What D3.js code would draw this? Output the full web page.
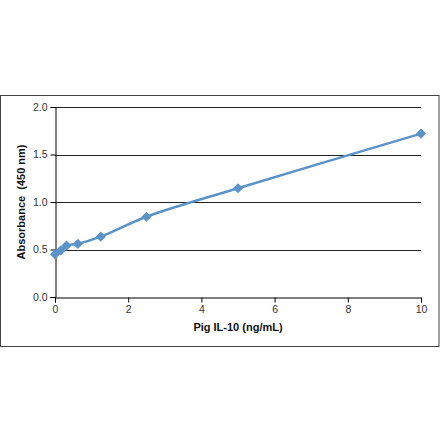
<!DOCTYPE html>
<html><head><meta charset="utf-8">
<script src="https://cdn.jsdelivr.net/npm/d3@7"></script>
<style>html,body{margin:0;padding:0;background:#fff;}svg{display:block;}</style>
</head><body>
<svg id="c" width="440" height="441"></svg>
<script>
const concentrations = [0, 0.156, 0.3125, 0.625, 1.25, 2.5, 5, 10];
const absorbance = [0.45, 0.49, 0.54, 0.56, 0.635, 0.845, 1.145, 1.72];
const xTicks = [0, 2, 4, 6, 8, 10];
const yTicks = [0.0, 0.5, 1.0, 1.5, 2.0];
const xTitle = "Pig IL-10 (ng/mL)";
const yTitle = "Absorbance  (450 nm)";

const svg = d3.select("#c");
const font = "Arial, 'Liberation Sans', sans-serif";

// outer frame
svg.append("rect").attr("x", 0.5).attr("y", 95.5).attr("width", 438.5).attr("height", 251)
  .attr("fill", "#fff").attr("stroke", "#444").attr("stroke-width", 1);

const x = d3.scaleLinear().domain([0, 10]).range([55, 421]);
const y = d3.scaleLinear().domain([0, 2]).range([297, 107]);

// gridlines
svg.append("g").selectAll("line").data(yTicks.filter(d => d > 0)).join("line")
  .attr("x1", x(0)).attr("x2", x(10))
  .attr("y1", d => Math.round(y(d)) + 0.5).attr("y2", d => Math.round(y(d)) + 0.5)
  .attr("stroke", "#222").attr("stroke-width", 1);

// y axis
const yAxis = svg.append("g").attr("transform", `translate(${x(0)+0.5},0)`)
  .call(d3.axisLeft(y).tickValues(yTicks).tickFormat(d3.format(".1f")).tickSize(5).tickPadding(3));
// x axis
const xAxis = svg.append("g").attr("transform", `translate(0,${y(0)+0.5})`)
  .call(d3.axisBottom(x).tickValues(xTicks).tickFormat(d3.format("d")).tickSize(5).tickPadding(3));
[yAxis, xAxis].forEach(g => {
  g.select(".domain").attr("stroke", "#000");
  g.selectAll(".tick line").attr("stroke", "#000");
  g.selectAll("text").attr("font-family", font).attr("font-size", 10.5).attr("fill", "#333");
});

// line
const pts = concentrations.map((c, i) => [c, absorbance[i]]);
svg.append("path").datum(pts)
  .attr("d", d3.line().x(d => x(d[0])).y(d => y(d[1])).curve(d3.curveCatmullRom.alpha(0.5)))
  .attr("fill", "none").attr("stroke", "#5b93c8").attr("stroke-width", 2.5);

// markers
svg.append("g").selectAll("path").data(pts).join("path")
  .attr("transform", d => `translate(${x(d[0])},${y(d[1])}) rotate(45)`)
  .attr("d", d3.symbol().type(d3.symbolSquare).size(52))
  .attr("fill", "#5b93c8");

// titles
svg.append("text").attr("x", 238).attr("y", 331).attr("text-anchor", "middle")
  .attr("font-family", font).attr("font-size", 11).attr("font-weight", "bold").attr("fill", "#111")
  .text(xTitle);
svg.append("text").attr("transform", `translate(25,${y(1)}) rotate(-90)`).attr("text-anchor", "middle")
  .attr("font-family", font).attr("font-size", 11).attr("font-weight", "bold").attr("fill", "#111")
  .attr("xml:space", "preserve").style("white-space", "pre")
  .text(yTitle);
</script>
</body></html>
